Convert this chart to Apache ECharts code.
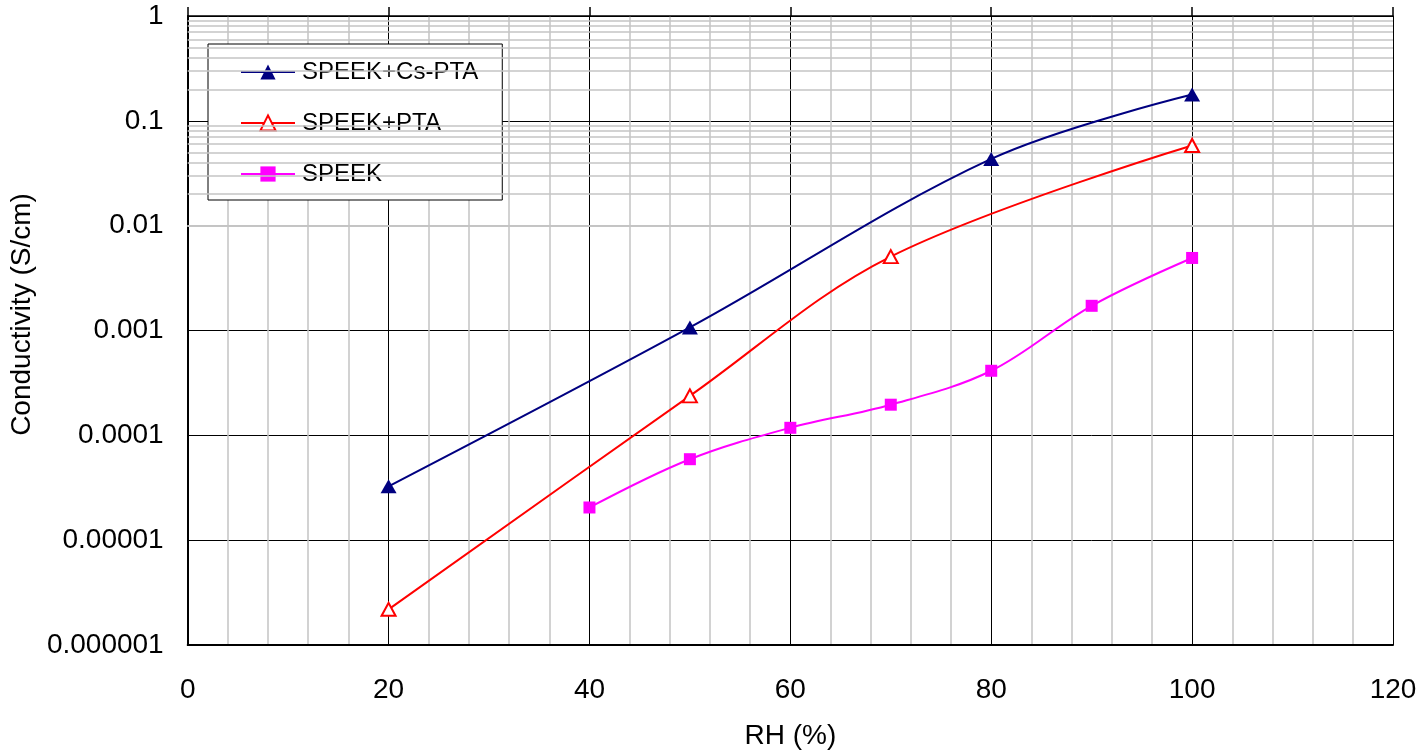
<!DOCTYPE html>
<html>
<head>
<meta charset="utf-8">
<script src="https://cdn.jsdelivr.net/npm/echarts@6/dist/echarts.min.js"></script>
<style>
  html, body { margin: 0; padding: 0; background: #fff; }
  #chart { width: 1426px; height: 755px; }
</style>
</head>
<body>
<div id="chart"></div>
<script>
// values
const seriesNames = ['SPEEK+Cs-PTA', 'SPEEK+PTA', 'SPEEK'];
const rhCsPta = [20, 50, 80, 100];
const condCsPta = [3.26e-5, 1.07e-3, 0.0433, 0.178];
const rhPta = [20, 50, 70, 100];
const condPta = [2.19e-6, 2.38e-4, 5.07e-3, 0.0582];
const rhSpeek = [40, 50, 60, 70, 80, 90, 100];
const condSpeek = [2.05e-5, 5.92e-5, 1.18e-4, 1.96e-4, 4.13e-4, 1.72e-3, 4.92e-3];
const yTickLabels = ['0.000001', '0.00001', '0.0001', '0.001', '0.01', '0.1', '1'];

const font = 'Liberation Sans, Arial, sans-serif';

// log minor grid: 2..9 in each decade
const minorY = [];
for (let k = -6; k < 0; k++) {
  for (let m = 2; m <= 9; m++) minorY.push({ yAxis: m * Math.pow(10, k) });
}

function pairs(xs, ys) {
  return xs.map((x, i) => [x, ys[i]]);
}

const chart = echarts.init(document.getElementById('chart'));

const option = {
  backgroundColor: '#fff',
  animation: false,
  textStyle: { fontFamily: font },
  grid: { left: 187, right: 33, top: 16, bottom: 108 },
  legend: {
    data: seriesNames,
    orient: 'vertical',
    left: 208,
    top: 44,
    padding: [15, 24, 13, 32],
    itemGap: 25,
    itemWidth: 54,
    itemHeight: 19,
    backgroundColor: '#fff',
    borderColor: '#000',
    borderWidth: 1,
    borderRadius: 0,
    textStyle: { fontSize: 24, lineHeight: 26, color: '#000', fontFamily: font, padding: [0, 0, 0, 2] }
  },
  xAxis: [
    {
      type: 'value',
      min: 0, max: 120, interval: 20,
      z: 2,
      name: 'RH (%)',
      nameLocation: 'middle',
      nameGap: 77,
      nameTextStyle: { fontSize: 28, color: '#000', fontFamily: font },
      axisLine: { show: true, onZero: false, lineStyle: { color: '#000', width: 2 } },
      axisTick: { show: false },
      axisLabel: { fontSize: 28, color: '#000', margin: 31, fontFamily: font },
      splitLine: { show: true, lineStyle: { color: '#000', width: 1 } },
      minorTick: { show: false, splitNumber: 5 },
      minorSplitLine: { show: true, lineStyle: { color: '#c4c4c4', width: 1.5 } }
    },
    {
      type: 'value',
      position: 'top',
      min: 0, max: 120, interval: 20,
      z: 2,
      axisLine: { show: true, onZero: false, lineStyle: { color: '#000', width: 1.5 } },
      axisTick: { show: true, inside: false, length: 9, lineStyle: { color: '#000', width: 1.5 } },
      axisLabel: { show: false },
      splitLine: { show: false }
    }
  ],
  yAxis: {
    type: 'log',
    logBase: 10,
    min: 1e-6, max: 1,
    z: 2,
    name: 'Conductivity (S/cm)',
    nameLocation: 'middle',
    nameGap: 140,
    nameTextStyle: { fontSize: 28, color: '#000', fontFamily: font, padding: [0, 0, 0, 32] },
    axisLine: { show: true, onZero: false, lineStyle: { color: '#000', width: 2 } },
    axisTick: { show: true, inside: true, length: 10, lineStyle: { color: '#000' } },
    axisLabel: {
      fontSize: 28, color: '#000', margin: 24, fontFamily: font,
      formatter: v => yTickLabels[Math.round(Math.log10(v)) + 6]
    },
    splitLine: { show: true, lineStyle: { color: '#000', width: 1 } }
  },
  series: [
    {
      name: 'minor',
      type: 'line',
      data: [],
      z: 1,
      silent: true,
      markLine: {
        silent: true,
        symbol: 'none',
        label: { show: false },
        animation: false,
        lineStyle: { color: '#c4c4c4', width: 1.5, type: 'solid' },
        data: minorY
      }
    },
    {
      name: seriesNames[0],
      type: 'line',
      z: 5,
      data: pairs(rhCsPta, condCsPta),
      smooth: 0.35,
      symbol: 'triangle',
      symbolSize: [16, 14],
      color: '#000080',
      itemStyle: { color: '#000080' },
      lineStyle: { color: '#000080', width: 2 }
    },
    {
      name: seriesNames[1],
      type: 'line',
      z: 5,
      data: pairs(rhPta, condPta),
      smooth: 0.35,
      symbol: 'triangle',
      symbolSize: [14, 13],
      color: '#ff0000',
      itemStyle: { color: '#fff', borderColor: '#ff0000', borderWidth: 2 },
      lineStyle: { color: '#ff0000', width: 2 }
    },
    {
      name: seriesNames[2],
      type: 'line',
      z: 5,
      data: pairs(rhSpeek, condSpeek),
      smooth: 0.35,
      symbol: 'rect',
      symbolSize: 12,
      color: '#ff00ff',
      itemStyle: { color: '#ff00ff' },
      lineStyle: { color: '#ff00ff', width: 2 }
    }
  ]
};

chart.setOption(option);
</script>
</body>
</html>
